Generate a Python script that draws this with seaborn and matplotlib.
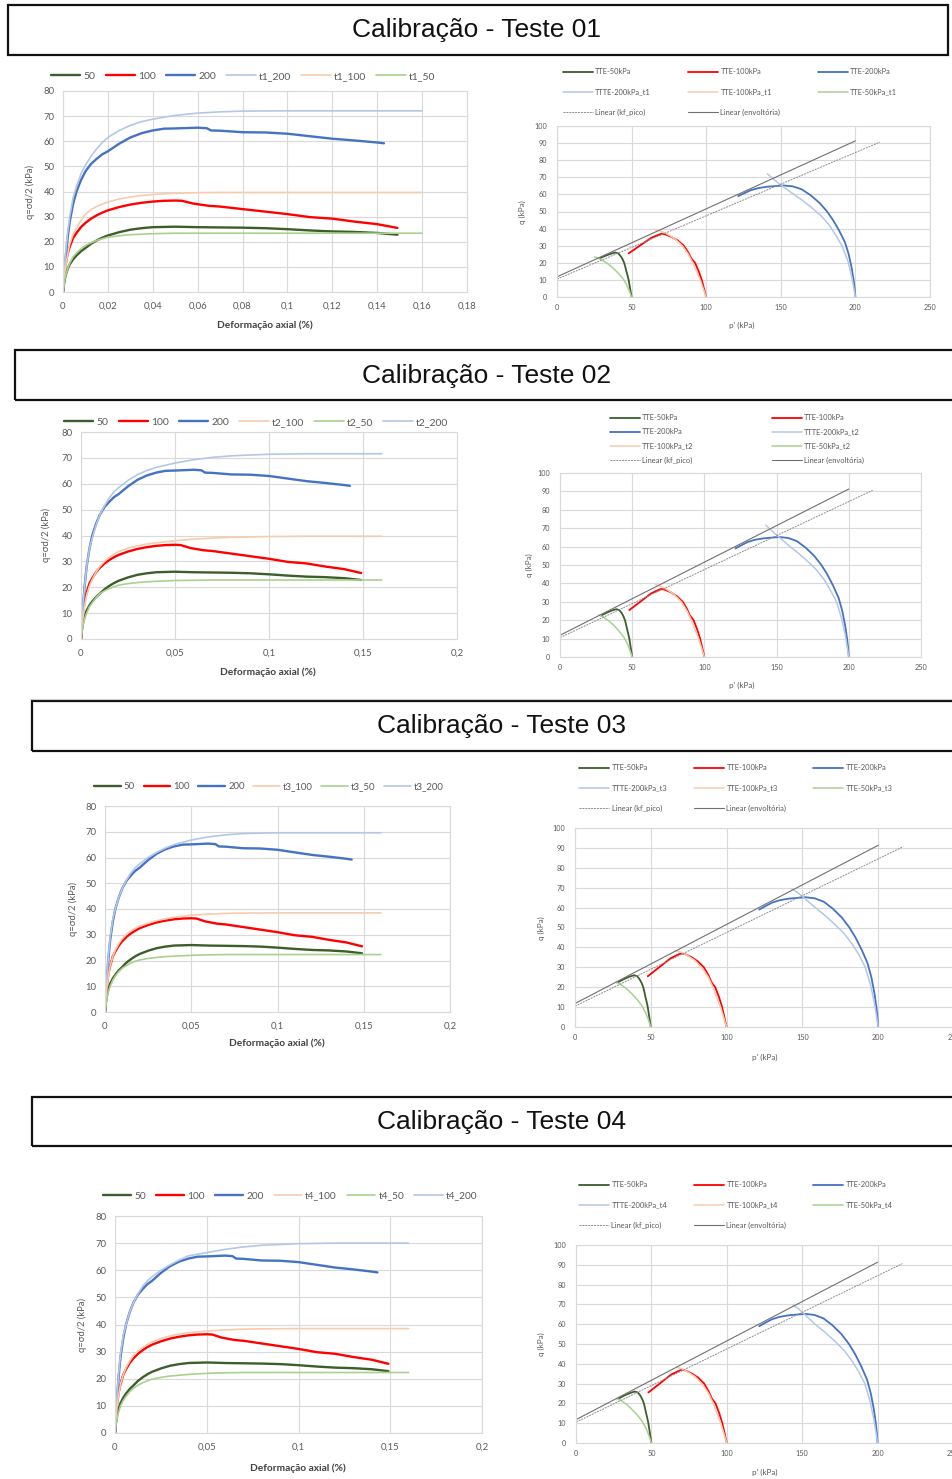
import numpy as np
import matplotlib
matplotlib.use("Agg")
import matplotlib.pyplot as plt
from matplotlib.patches import Rectangle
from matplotlib.lines import Line2D
import seaborn as sns

# --- data ------------------------------------------------------------------
# measured stress-strain curves (same lab data in every test)
exp_strain_50 = [0, 0.0005, 0.001, 0.002, 0.003, 0.0045, 0.006, 0.008, 0.01, 0.0125, 0.015,
                 0.0175, 0.02, 0.025, 0.03, 0.035, 0.04,
                 0.05, 0.06, 0.07, 0.08, 0.09, 0.1, 0.11, 0.12, 0.13, 0.14, 0.149]
exp_q_50 = [0, 3.5, 6, 9, 11, 13, 14.5, 16.2, 17.5, 19.2, 20.5,
            21.6, 22.5, 23.8, 24.8, 25.4, 25.8,
            26.0, 25.8, 25.7, 25.6, 25.4, 25.0, 24.5, 24.1, 23.9, 23.5, 22.8]
exp_strain_100 = [0, 0.0005, 0.001, 0.002, 0.003, 0.0045, 0.006, 0.008, 0.01, 0.0125, 0.015,
                  0.0175, 0.02, 0.025, 0.03, 0.035, 0.04,
                  0.045, 0.05, 0.053, 0.058, 0.065, 0.07, 0.08, 0.09, 0.1, 0.11, 0.12, 0.13,
                  0.14, 0.149]
exp_q_100 = [0, 6, 10, 15, 18, 21.5, 23.5, 25.8, 27.5, 29.2, 30.5,
             31.6, 32.5, 33.8, 34.8, 35.5, 36.0,
             36.3, 36.4, 36.3, 35.2, 34.3, 34.0, 33.0, 32.0, 31.0, 29.8, 29.2, 28.0,
             27.0, 25.5]
exp_strain_200 = [0, 0.0005, 0.001, 0.002, 0.003, 0.0045, 0.006, 0.008, 0.01, 0.0125, 0.015,
                  0.0175, 0.02, 0.025, 0.03, 0.035, 0.04,
                  0.045, 0.05, 0.06, 0.064, 0.066, 0.07, 0.08, 0.09, 0.1, 0.11, 0.12, 0.13,
                  0.14, 0.143]
exp_q_200 = [0, 7, 12, 21, 28, 35, 40, 44.5, 48, 51, 53,
             54.8, 56, 59, 61.5, 63.2, 64.3,
             65.0, 65.1, 65.4, 65.2, 64.3, 64.2, 63.6, 63.5, 63.0, 62.0, 61.0, 60.3,
             59.5, 59.2]

# simulated stress-strain curves
sim_strain = [0, 0.0005, 0.001, 0.002, 0.003, 0.0045, 0.006, 0.008, 0.01, 0.0125, 0.015,
              0.0175, 0.02, 0.025, 0.03, 0.035, 0.04, 0.05, 0.06, 0.07, 0.08, 0.1,
              0.12, 0.14, 0.16]
sim_q_t1_200 = [0, 8, 14, 23, 30, 37.5, 42, 47, 50.5, 54, 57, 59.5, 61.5, 64.3, 66.3, 67.8,
                68.8, 70.3, 71.2, 71.7, 72.0, 72.1, 72.1, 72.1, 72.1]
sim_q_t1_100 = [0, 5, 9, 14.5, 19, 23, 25.5, 28.5, 31, 32.8, 34, 35, 35.8, 37, 37.8, 38.4,
                38.8, 39.3, 39.5, 39.6, 39.6, 39.6, 39.6, 39.6, 39.6]
sim_q_t1_50 = [0, 3.5, 6, 9, 11.5, 14, 15.5, 17.2, 18.5, 19.6, 20.5, 21.2, 21.8, 22.4, 22.8,
               23.0, 23.2, 23.4, 23.4, 23.4, 23.4, 23.4, 23.4, 23.4, 23.4]
sim_q_t2_200 = [0, 7, 13, 21, 28, 35, 39, 44, 48, 51.5, 54.5, 56.8, 58.5, 61.3, 63.5, 65.1,
                66.3, 68, 69.3, 70.2, 70.8, 71.4, 71.6, 71.6, 71.6]
sim_q_t2_100 = [0, 4.5, 8, 13, 17, 20.5, 23, 25.8, 28, 30, 31.5, 32.8, 33.8, 35.1, 36, 36.7,
                37.2, 38, 38.6, 39.0, 39.3, 39.6, 39.7, 39.7, 39.7]
sim_q_t2_50 = [0, 3, 5, 8, 10, 12.5, 14, 16, 17.5, 18.6, 19.5, 20.2, 20.8, 21.4, 21.8, 22.1,
               22.3, 22.6, 22.7, 22.8, 22.8, 22.8, 22.8, 22.8, 22.8]
sim_q_t3_200 = [0, 7, 13, 22, 29, 36, 40, 44.5, 48, 51.3, 54, 56, 57.5, 60, 62, 63.7,
                65, 66.8, 68, 68.8, 69.3, 69.6, 69.6, 69.6, 69.6]
sim_q_t3_100 = [0, 5, 9, 14, 18, 21.5, 24, 26.5, 28.5, 30.2, 31.5, 32.5, 33.3, 34.5, 35.5,
                36.2, 36.8, 37.6, 38.0, 38.3, 38.4, 38.5, 38.5, 38.5, 38.5]
sim_q_t3_50 = [0, 3, 5, 8, 10, 12.3, 14, 15.7, 17, 18.1, 19, 19.7, 20.2, 20.8, 21.2, 21.5,
               21.7, 22.0, 22.2, 22.3, 22.3, 22.3, 22.3, 22.3, 22.3]
sim_q_t4_200 = [0, 7, 13, 22, 29, 36, 40, 44.5, 48, 51.3, 54, 56, 57.5, 60, 62, 63.8,
                65.3, 66.5, 67.7, 68.6, 69.2, 69.8, 70, 70, 70]
sim_q_t4_100 = [0, 5, 9, 14, 18, 21.5, 24, 26.5, 28.5, 30.2, 31.5, 32.6, 33.5, 34.8, 35.8,
                36.5, 37.0, 37.6, 38.0, 38.3, 38.4, 38.5, 38.5, 38.5, 38.5]
sim_q_t4_50 = [0, 3, 5, 7.8, 10, 12, 13.5, 15.2, 16.5, 17.6, 18.5, 19.2, 19.8, 20.5, 21,
               21.3, 21.6, 22, 22.2, 22.3, 22.3, 22.3, 22.3, 22.3, 22.3]

# measured stress paths p'-q
exp_p_50 = [50, 49.5, 49, 48.5, 48, 47.3, 46.5, 45.8, 45, 44, 43, 42, 41, 39, 36, 33, 30, 28.5]
exp_pq_50 = [0, 2.5, 5, 7.5, 10, 12.5, 15, 17.5, 20, 22, 23.5, 24.6, 25.5, 26, 25.3, 24.3,
             23.2, 22.5]
exp_p_100 = [100, 98.5, 97, 95, 92.5, 90, 88, 85, 81, 77, 73, 70, 67, 63, 58, 53, 48]
exp_pq_100 = [0, 5, 10, 15, 20, 22.5, 26, 30, 33, 35, 36.5, 37, 36, 34.5, 31.5, 28.5, 25.5]
exp_p_200 = [200, 199.5, 198.8, 197.5, 195.5, 193, 189, 185, 181, 176, 170, 164, 158, 152,
             147, 141, 135, 130, 125, 121.5]
exp_pq_200 = [0, 5, 10, 17, 25, 32, 39, 45, 50, 55, 59.5, 63, 64.7, 65.2,
              64.9, 64.5, 63.7, 62.5, 60.5, 59]

# simulated stress paths p'-q
sim_p_t1_50 = [50, 48.5, 46.5, 44, 41, 37.5, 34, 30, 27, 25]
sim_pq_t1_50 = [0, 3.5, 7.5, 11, 14, 17, 19.5, 21.7, 22.9, 23.4]
sim_p_t1_100 = [100, 98, 96, 93.5, 91, 88, 84, 79, 74, 69, 65]
sim_pq_t1_100 = [0, 5, 10, 15, 20, 25, 30, 34, 36.8, 38.7, 39.6]
sim_p_t1_200 = [200, 199, 197.5, 195, 191, 187, 182.5, 177, 171, 164.5, 158, 150, 145, 141]
sim_pq_t1_200 = [0, 5, 12, 21, 30, 36, 42, 47.5, 52, 56.5, 60.5, 65.5, 69, 72]

sim_p_t2_50 = [50, 48.5, 46.5, 44, 41, 37.5, 34, 30.5, 28.5, 27]
sim_pq_t2_50 = [0, 3.5, 7.5, 11, 14, 17, 19.5, 21.5, 22.3, 22.8]
sim_p_t2_100 = [100, 98, 96, 93.5, 91, 88, 84, 79, 74, 69.5, 66]
sim_pq_t2_100 = [0, 5, 10, 15, 20, 25, 30, 34, 36.7, 38.5, 39.4]
sim_p_t2_200 = [200, 199, 197.5, 195, 191.5, 187.5, 183, 177.5, 171.5, 165, 158.5, 151.5, 146.5, 142.5]
sim_pq_t2_200 = [0, 5, 12, 21, 30, 36, 42, 47.5, 52, 56.5, 60.5, 65.3, 68.8, 71.6]

sim_p_t3_50 = [50, 48.5, 46.5, 44, 41, 37.5, 34, 30.5, 28.5, 27]
sim_pq_t3_50 = [0, 3.5, 7.3, 10.8, 13.8, 16.7, 19.2, 21.2, 22.0, 22.4]
sim_p_t3_100 = [100, 98, 96, 93.5, 91, 88, 84, 79, 74, 69.5, 66]
sim_pq_t3_100 = [0, 5, 10, 15, 20, 25, 29.5, 33.5, 36, 37.7, 38.4]
sim_p_t3_200 = [200, 199, 197.5, 195, 191.5, 187.5, 183, 177.5, 171.5, 165, 158.5, 152, 147, 143]
sim_pq_t3_200 = [0, 5, 12, 21, 30, 36, 41.5, 47, 51.5, 56, 60, 64.3, 67.5, 69.4]

sim_p_t4_50 = [50, 48.5, 46.5, 44, 41, 37.5, 34, 30.5, 28.5, 27]
sim_pq_t4_50 = [0, 3.5, 7.3, 10.8, 13.8, 16.7, 19.2, 21.2, 22.0, 22.4]
sim_p_t4_100 = [100, 98, 96, 93.5, 91, 88, 84, 79, 74, 69.8, 66.3]
sim_pq_t4_100 = [0, 5, 10, 15, 20, 25, 29.5, 33.5, 36, 37.6, 38.3]
sim_p_t4_200 = [200, 199, 197.5, 195, 191.5, 187.5, 183, 177.5, 171.5, 165, 158.5, 152.5, 148, 144]
sim_pq_t4_200 = [0, 5, 12, 21, 30, 36, 41.5, 47, 51.5, 56, 60, 64.3, 67.5, 69.7]

# trend lines
env_p = [0, 200]
env_q = [11.8, 91.3]
kf_p = [0, 216.5]
kf_q = [10.5, 90.6]

# axis ticks
tick_strain_t1 = [0, 0.02, 0.04, 0.06, 0.08, 0.1, 0.12, 0.14, 0.16, 0.18]
tick_labels_t1 = ["0", "0,02", "0,04", "0,06", "0,08", "0,1", "0,12", "0,14", "0,16", "0,18"]
tick_strain = [0, 0.05, 0.1, 0.15, 0.2]
tick_labels = ["0", "0,05", "0,1", "0,15", "0,2"]

titles = ["Calibração - Teste 01", "Calibração - Teste 02",
          "Calibração - Teste 03", "Calibração - Teste 04"]

# --- style -----------------------------------------------------------------
sns.set_theme(style="white")
plt.rcParams["font.family"] = ["Lato", "DejaVu Sans"]

W, H = 953, 1479
C50, C100, C200 = "#3B5E2B", "#FF0000", "#4472C4"
T50, T100, T200 = "#A9D18E", "#F8CBAD", "#B4C7E7"
GRID = "#D9D9D9"
TXT = "#595959"

fig = plt.figure(figsize=(W / 100, H / 100), dpi=100)


def px_axes(x0, y0, x1, y1):
    return fig.add_axes([x0 / W, 1 - y1 / H, (x1 - x0) / W, (y1 - y0) / H])


def line(ax, x, y, color, lw, ls="-", label=None):
    sns.lineplot(x=x, y=y, ax=ax, color=color, linewidth=lw, linestyle=ls,
                 sort=False, estimator=None, legend=False)
    h = ax.lines[-1]
    h.set_label(label)
    return h


def style_axes(ax, fs):
    ax.grid(True, color=GRID, linewidth=0.8)
    ax.set_axisbelow(True)
    for s in ax.spines.values():
        s.set_color(GRID)
        s.set_linewidth(0.8)
    ax.tick_params(length=0, labelsize=fs, colors=TXT)
    ax.set_xlabel("")
    ax.set_ylabel("")


def col_major(items, ncol):
    n = len(items)
    out = []
    for c in range(ncol):
        r = 0
        while r * ncol + c < n:
            out.append(items[r * ncol + c])
            r += 1
    return out


# pixel layout for each test
tests = [
    dict(box=(8, 5, 948, 55), tc=(477, 30),
         left=(63, 91, 467, 292), lleg=(243, 76), lfs=7.5, lcs=1.0,
         xl=(265, 325), yl=(30, 192),
         xmax=0.18, ticks=tick_strain_t1, tlabels=tick_labels_t1,
         right=(557, 126, 930, 297), rleg=(730, 92), rcol=3, rcs=5.0, rls=1.75,
         rxl=(742, 325), ryl=(522, 212),
         tag="t1", sim_order=["200", "100", "50"],
         sq={"200": sim_q_t1_200, "100": sim_q_t1_100, "50": sim_q_t1_50},
         sp={"200": (sim_p_t1_200, sim_pq_t1_200), "100": (sim_p_t1_100, sim_pq_t1_100),
             "50": (sim_p_t1_50, sim_pq_t1_50)}),
    dict(box=(15, 350, 965, 400), tc=(487, 376),
         left=(81, 432, 457, 639), lleg=(256, 422), lfs=7.5, lcs=1.0,
         xl=(268, 672), yl=(46, 535),
         xmax=0.2, ticks=tick_strain, tlabels=tick_labels,
         right=(560, 473, 921, 657), rleg=(737, 439), rcol=2, rcs=10.5, rls=0.95,
         rxl=(742, 685), ryl=(529, 565),
         tag="t2", sim_order=["100", "50", "200"],
         sq={"200": sim_q_t2_200, "100": sim_q_t2_100, "50": sim_q_t2_50},
         sp={"200": (sim_p_t2_200, sim_pq_t2_200), "100": (sim_p_t2_100, sim_pq_t2_100),
             "50": (sim_p_t2_50, sim_pq_t2_50)}),
    dict(box=(32, 701, 965, 751), tc=(502, 726),
         left=(105, 806, 450, 1012), lleg=(269, 787), lfs=6.9, lcs=0.9,
         xl=(277, 1043), yl=(73, 909),
         xmax=0.2, ticks=tick_strain, tlabels=tick_labels,
         right=(575, 828, 954, 1027), rleg=(736, 788), rcol=3, rcs=3.6, rls=1.75,
         rxl=(765, 1057), ryl=(541, 928),
         tag="t3", sim_order=["100", "50", "200"],
         sq={"200": sim_q_t3_200, "100": sim_q_t3_100, "50": sim_q_t3_50},
         sp={"200": (sim_p_t3_200, sim_pq_t3_200), "100": (sim_p_t3_100, sim_pq_t3_100),
             "50": (sim_p_t3_50, sim_pq_t3_50)}),
    dict(box=(32, 1097, 965, 1146), tc=(502, 1122),
         left=(115, 1216, 482, 1433), lleg=(290, 1196), lfs=7.3, lcs=1.0,
         xl=(298, 1468), yl=(82, 1325),
         xmax=0.2, ticks=tick_strain, tlabels=tick_labels,
         right=(576, 1245, 953, 1443), rleg=(736, 1205), rcol=3, rcs=3.6, rls=1.75,
         rxl=(765, 1472), ryl=(541, 1344),
         tag="t4", sim_order=["100", "50", "200"],
         sq={"200": sim_q_t4_200, "100": sim_q_t4_100, "50": sim_q_t4_50},
         sp={"200": (sim_p_t4_200, sim_pq_t4_200), "100": (sim_p_t4_100, sim_pq_t4_100),
             "50": (sim_p_t4_50, sim_pq_t4_50)}),
]

sim_col = {"200": T200, "100": T100, "50": T50}

for i, t in enumerate(tests):
    # title box
    x0, y0, x1, y1 = t["box"]
    fig.add_artist(Rectangle((x0 / W, 1 - y1 / H), (x1 - x0) / W, (y1 - y0) / H,
                             transform=fig.transFigure, fill=False, ec="#111111", lw=1.6))
    fig.text(t["tc"][0] / W, 1 - t["tc"][1] / H, titles[i], ha="center", va="center",
             fontsize=19, family=["Liberation Sans", "DejaVu Sans"], color="#111111")

    # stress-strain panel
    ax = px_axes(*t["left"])
    h = {}
    h["50"] = line(ax, exp_strain_50, exp_q_50, C50, 1.7, label="50")
    h["100"] = line(ax, exp_strain_100, exp_q_100, C100, 1.7, label="100")
    h["200"] = line(ax, exp_strain_200, exp_q_200, C200, 1.7, label="200")
    for k in ["200", "100", "50"]:
        h["t" + k] = line(ax, sim_strain, t["sq"][k], sim_col[k], 1.2, label=f"{t['tag']}_{k}")
    ax.set_xlim(0, t["xmax"])
    ax.set_ylim(0, 80)
    ax.set_xticks(t["ticks"])
    ax.set_xticklabels(t["tlabels"])
    ax.set_yticks(range(0, 81, 10))
    style_axes(ax, 6.8)
    ax.tick_params(axis="x", pad=7)
    ax.tick_params(axis="y", pad=6)
    hs = [h["50"], h["100"], h["200"]] + [h["t" + k] for k in t["sim_order"]]
    ax.legend(handles=hs, labels=[x.get_label() for x in hs], ncol=6, frameon=False,
              loc="center", bbox_to_anchor=(t["lleg"][0] / W, 1 - t["lleg"][1] / H),
              bbox_transform=fig.transFigure, fontsize=t["lfs"], handlelength=2.8,
              handletextpad=0.3, columnspacing=t["lcs"], labelcolor=TXT)
    fig.text(t["xl"][0] / W, 1 - t["xl"][1] / H, "Deformação axial (%)", ha="center",
             va="center", fontsize=7.3, fontweight="bold", color="#404040")
    fig.text(t["yl"][0] / W, 1 - t["yl"][1] / H, "q=σd/2 (kPa)", ha="center", va="center",
             rotation=90, fontsize=6.8, color=TXT)

    # stress path panel
    ax = px_axes(*t["right"])
    g = []
    g.append(line(ax, exp_p_50, exp_pq_50, C50, 1.3, label="TTE-50kPa"))
    g.append(line(ax, exp_p_100, exp_pq_100, C100, 1.3, label="TTE-100kPa"))
    g.append(line(ax, exp_p_200, exp_pq_200, C200, 1.3, label="TTE-200kPa"))
    p, q = t["sp"]["200"]
    g.append(line(ax, p, q, T200, 1.1, label=f"TTTE-200kPa_{t['tag']}"))
    p, q = t["sp"]["100"]
    g.append(line(ax, p, q, T100, 1.1, label=f"TTE-100kPa_{t['tag']}"))
    p, q = t["sp"]["50"]
    g.append(line(ax, p, q, T50, 1.1, label=f"TTE-50kPa_{t['tag']}"))
    g.append(line(ax, kf_p, kf_q, "#8C8C8C", 0.7, ls=(0, (2, 1)), label="Linear (kf_pico)"))
    g.append(line(ax, env_p, env_q, "#707070", 0.8, label="Linear (envoltória)"))
    ax.set_xlim(0, 250)
    ax.set_ylim(0, 100)
    ax.set_xticks(range(0, 251, 50))
    ax.set_yticks(range(0, 101, 10))
    style_axes(ax, 5.2)
    ax.tick_params(axis="x", pad=5)
    ax.tick_params(axis="y", pad=7)
    hs = col_major(g, t["rcol"])
    ax.legend(handles=hs, labels=[x.get_label() for x in hs], ncol=t["rcol"], frameon=False,
              loc="center", bbox_to_anchor=(t["rleg"][0] / W, 1 - t["rleg"][1] / H),
              bbox_transform=fig.transFigure, fontsize=5.4, handlelength=4.0,
              handletextpad=0.3, columnspacing=t["rcs"], labelspacing=t["rls"],
              labelcolor=TXT)
    fig.text(t["rxl"][0] / W, 1 - t["rxl"][1] / H, "p' (kPa)", ha="center", va="center",
             fontsize=5.8, color=TXT)
    fig.text(t["ryl"][0] / W, 1 - t["ryl"][1] / H, "q (kPa)", ha="center", va="center",
             rotation=90, fontsize=5.8, color=TXT)

# faint separator under test 02
fig.add_artist(Line2D([30 / W, 1], [1 - 699 / H, 1 - 699 / H], transform=fig.transFigure,
                      color="#CCCCCC", lw=0.8))

fig.savefig("out.png", dpi=100)
